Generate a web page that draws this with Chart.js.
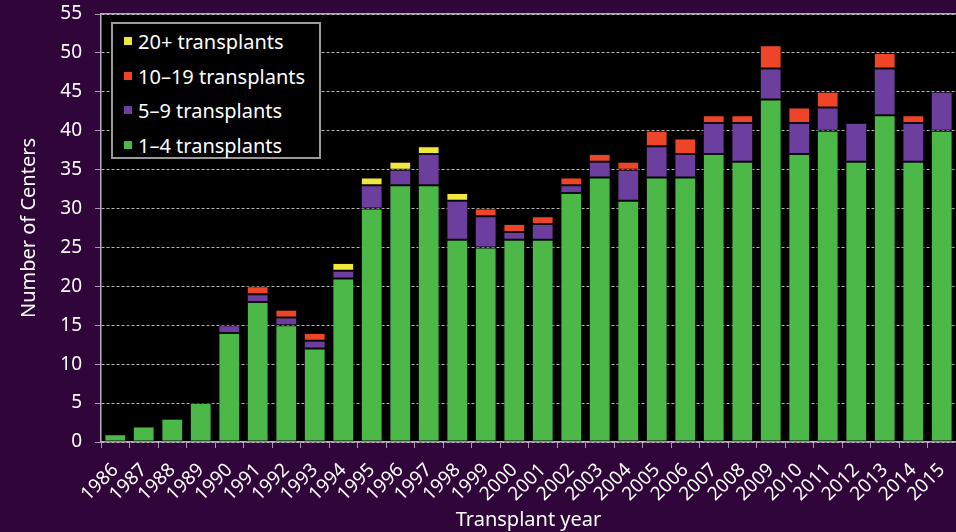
<!DOCTYPE html>
<html>
<head>
<meta charset="utf-8">
<script src="https://cdn.jsdelivr.net/npm/chart.js@4.4.1/dist/chart.umd.min.js"></script>
<style>
  html, body { margin: 0; padding: 0; background: #30053a; }
  #wrap { position: relative; width: 956px; height: 532px; }
  #legend {
    position: absolute; left: 111px; top: 22px; width: 210px; height: 137px;
    background: #000; border: 2px solid #9a9a9a;
    font-family: "Noto Sans", sans-serif; font-size: 20px; color: #fff;
    padding-top: 1px; box-sizing: border-box;
  }
  #legend .item { height: 34.5px; line-height: 34px; white-space: nowrap; }
  #legend .box { display: inline-block; width: 8px; height: 8px; margin: 0 6px 0 11px; vertical-align: 4px; }
</style>
</head>
<body>
<div id="wrap">
  <canvas id="grafica" width="956" height="532"></canvas>
  <div id="legend"></div>
</div>
<script>
// datos
var years = ['1986','1987','1988','1989','1990','1991','1992','1993','1994','1995',
             '1996','1997','1998','1999','2000','2001','2002','2003','2004','2005',
             '2006','2007','2008','2009','2010','2011','2012','2013','2014','2015'];
var centers1to4 = [1,2,3,5,14,18,15,12,21,30,33,33,26,25,26,26,32,34,31,34,34,37,36,44,37,40,36,42,36,40];
var centers5to9 = [0,0,0,0,1,1,1,1,1,3,2,4,5,4,1,2,1,2,4,4,3,4,5,4,4,3,5,6,5,5];
var centers10to19 = [0,0,0,0,0,1,1,1,0,0,0,0,0,1,1,1,1,1,1,2,2,1,1,3,2,2,0,2,1,0];
var centers20plus = [0,0,0,0,0,0,0,0,1,1,1,1,1,0,0,0,0,0,0,0,0,0,0,0,0,0,0,0,0,0];
var yTicks = [0,5,10,15,20,25,30,35,40,45,50,55];

var seriesLabels = ['1–4 transplants', '5–9 transplants', '10–19 transplants', '20+ transplants'];
var seriesColors = ['#4cb847', '#6c3e9e', '#ee4428', '#f2e641'];
var seriesData = [centers1to4, centers5to9, centers10to19, centers20plus];

var fontFam = '"Noto Sans", sans-serif';

var datasets = seriesData.map(function(d, i){
    return {
        label: seriesLabels[i],
        data: d,
        backgroundColor: seriesColors[i],
        borderColor: 'rgba(20,20,20,0.7)',
        borderWidth: 1,
        borderSkipped: false,
        barPercentage: 0.76,
        categoryPercentage: 1.0
    };
});

var ctx = document.getElementById('grafica').getContext('2d');
var grafica = new Chart(ctx, {
    type: 'bar',
    data: { labels: years, datasets: datasets },
    options: {
        responsive: false,
        animation: false,
        devicePixelRatio: 1,
        layout: { padding: { top: 14, right: 0, left: 0, bottom: 0 } },
        plugins: {
            legend: { display: false },
            tooltip: { enabled: false }
        },
        scales: {
            x: {
                stacked: true,
                offset: true,
                afterFit: function(s){
                    s.height = 90;
                    s.paddingLeft = 0;
                    s.paddingRight = 0;
                },
                grid: {
                    offset: true,
                    drawOnChartArea: false,
                    drawTicks: true,
                    tickLength: 6,
                    tickColor: '#a896b0'
                },
                border: { color: '#b8aec0', width: 1.5 },
                ticks: {
                    color: '#ffffff',
                    font: { family: fontFam, size: 19 },
                    minRotation: 45,
                    maxRotation: 45,
                    padding: 11,
                    autoSkip: false
                },
                title: {
                    display: true,
                    text: 'Transplant year',
                    color: '#ffffff',
                    font: { family: fontFam, size: 20 },
                    padding: { top: 0, bottom: 0 }
                }
            },
            xTop: {
                type: 'category',
                position: 'top',
                labels: years,
                offset: true,
                afterFit: function(s){ s.height = 0; },
                grid: { display: false, drawTicks: false },
                ticks: { display: false },
                border: { color: '#b8aec0', width: 1.5 }
            },
            y: {
                stacked: true,
                min: 0,
                max: 55,
                afterFit: function(s){
                    s.width = 101;
                    s.paddingTop = 0;
                    s.paddingBottom = 0;
                },
                afterBuildTicks: function(s){
                    s.ticks = yTicks.map(function(v){ return { value: v }; });
                },
                grid: {
                    color: 'rgba(215,215,215,0.85)',
                    lineWidth: 1,
                    tickLength: 6,
                    tickColor: '#a896b0',
                    tickBorderDash: []
                },
                border: { color: '#b8aec0', width: 1.5, dash: [3, 2] },
                ticks: {
                    color: '#ffffff',
                    font: { family: fontFam, size: 19 },
                    padding: 13
                },
                title: {
                    display: true,
                    text: 'Number of Centers',
                    color: '#ffffff',
                    font: { family: fontFam, size: 20 },
                    padding: { top: 17, bottom: 0 }
                }
            }
        }
    },
    plugins: [{
        // fondo negro del area de la grafica
        id: 'fondoArea',
        beforeDraw: function(chart){
            var a = chart.chartArea;
            var c = chart.ctx;
            c.save();
            c.fillStyle = '#000000';
            c.fillRect(a.left, a.top, a.right - a.left, a.bottom - a.top);
            c.restore();
        }
    }]
});

// leyenda en html, en orden inverso como la original
var legendHtml = '';
for (var i = seriesLabels.length - 1; i >= 0; i--) {
    legendHtml += '<div class="item"><span class="box" style="background:' + seriesColors[i] + '"></span>' + seriesLabels[i] + '</div>';
}
document.getElementById('legend').innerHTML = legendHtml;
</script>
</body>
</html>
